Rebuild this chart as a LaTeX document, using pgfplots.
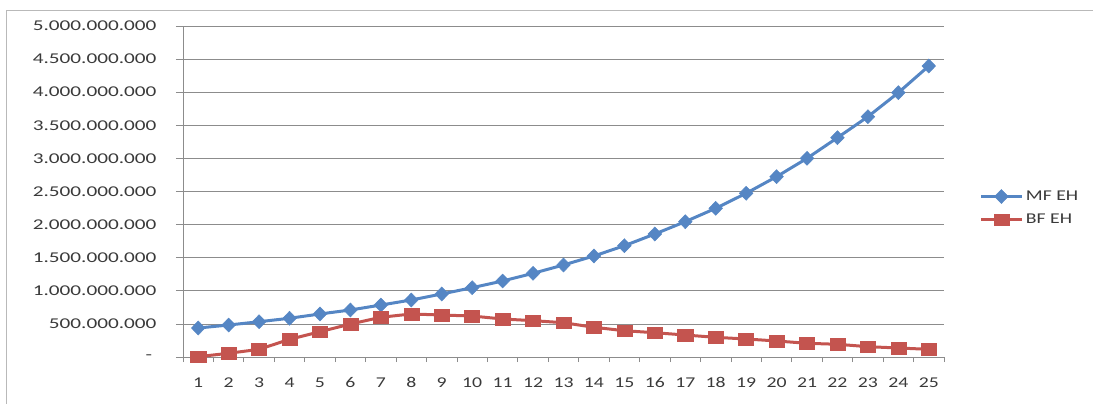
\documentclass[border=0pt]{standalone}
\usepackage{pgfplots}
\pgfplotsset{compat=1.18}
\usepackage{fontspec}
\setmainfont{Carlito}
\definecolor{mfblue}{HTML}{5586C4}
\definecolor{bfred}{HTML}{C4544F}
\definecolor{txt}{HTML}{3A3A3A}
\definecolor{gridc}{HTML}{8C8C8C}
\newcommand\ys[1]{\scalebox{1.42}[1]{#1}}
\newcommand\xs[1]{\scalebox{1.32}[1]{#1}}
\pgfplotstableread{
x mf bf
1 438000000 5000000
2 483000000 56000000
3 533000000 116000000
4 585000000 267000000
5 650000000 382000000
6 710000000 498000000
7 785000000 600000000
8 861000000 650000000
9 952000000 634000000
10 1047000000 619000000
11 1148000000 574000000
12 1264000000 549000000
13 1390000000 518000000
14 1526000000 449000000
15 1681000000 397000000
16 1858000000 367000000
17 2044000000 332000000
18 2246000000 297000000
19 2473000000 272000000
20 2724000000 242000000
21 3001000000 207000000
22 3313000000 192000000
23 3630000000 156000000
24 3993000000 136000000
25 4396000000 116000000
}\datatable
\begin{document}
\begin{tikzpicture}
\begin{axis}[
  at={(0,0)}, anchor=south west,
  scale only axis, width=761bp, height=331bp,
  xmin=0.5, xmax=25.5, ymin=0, ymax=5000000000,
  clip=false,
  scaled y ticks=false,
  axis lines*=left,
  axis line style={gridc, line width=0.8bp},
  ymajorgrids, major grid style={gridc, line width=0.8bp},
  ytick={0,500000000,1000000000,1500000000,2000000000,2500000000,3000000000,3500000000,4000000000,4500000000,5000000000},
  yticklabels={\ys{-\hspace{3bp}},\ys{500.000.000},\ys{1.000.000.000},\ys{1.500.000.000},\ys{2.000.000.000},\ys{2.500.000.000},\ys{3.000.000.000},\ys{3.500.000.000},\ys{4.000.000.000},\ys{4.500.000.000},\ys{5.000.000.000}},
  xtick={1,...,25},
  xticklabels={\xs{1},\xs{2},\xs{3},\xs{4},\xs{5},\xs{6},\xs{7},\xs{8},\xs{9},\xs{10},\xs{11},\xs{12},\xs{13},\xs{14},\xs{15},\xs{16},\xs{17},\xs{18},\xs{19},\xs{20},\xs{21},\xs{22},\xs{23},\xs{24},\xs{25}},
  minor xtick={0.5,1.5,...,25.5},
  tick align=outside,
  major tick length=7bp, minor tick length=5bp,
  major x tick style={draw=none},
  minor x tick style={gridc, line width=0.8bp},
  major y tick style={gridc, line width=0.8bp},
  tick label style={font=\fontsize{15}{15}\selectfont, text=txt},
  yticklabel style={anchor=east, xshift=-16bp},
  xticklabel style={anchor=north, yshift=-10bp},
  legend style={draw=none, fill=none, at={(rel axis cs:1.043,0.45)}, anchor=west,
     font=\fontsize{15}{15}\selectfont, text=txt, row sep=8bp},
  legend cell align=left,
  legend image code/.code={\draw[mark repeat=2,mark phase=2] plot coordinates {(0bp,0bp) (20bp,0bp) (41bp,0bp)};},
]
\addplot[mfblue, line width=3bp, mark=diamond*, mark size=7bp, mark options={xscale=1.3, fill=mfblue, draw=mfblue, line width=0.5bp}] table[x=x,y=mf] {\datatable};
\addlegendentry{\xs{MF EH}}
\addplot[bfred, line width=3bp, mark=square*, mark size=5.8bp, mark options={xscale=1.3, fill=bfred, draw=bfred, line width=0.5bp}] table[x=x,y=bf] {\datatable};
\addlegendentry{\xs{BF EH}}
\end{axis}
\pgfresetboundingbox
\path[use as bounding box] (-183bp,-47bp) rectangle (910bp,357bp);
\draw[gray!55, line width=0.9bp] (-177bp,-60bp) -- (-177bp,347bp) -- (920bp,347bp);
\end{tikzpicture}
\end{document}
